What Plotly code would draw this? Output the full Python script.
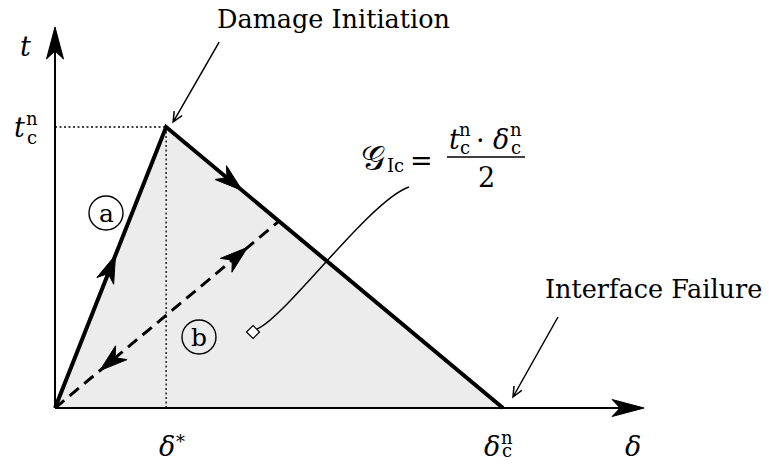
import math
import plotly.graph_objects as go

# ---- bilinear cohesive law (normalised units) ----
t_c = 1.0            # cohesive strength t_c^n
delta_star = 0.248   # separation at damage initiation
delta_c = 1.0        # critical separation delta_c^n
delta_unload = 0.50  # separation at which path (b) unloads

law_delta = [0.0, delta_star, delta_c]
law_t = [0.0, t_c, 0.0]

# traction on the softening branch where unloading starts
t_unload = t_c * (delta_c - delta_unload) / (delta_c - delta_star)
unload_delta = [0.0, delta_unload]
unload_t = [0.0, t_unload]

# axis arrow tips
AXIS_X_END = 1.315
AXIS_Y_END = 1.356

W, H = 769, 469
X_RANGE = [-0.1228, 1.5938]
Y_RANGE = [-0.2171, 1.452]
FONT = "DejaVu Serif"
WORD, BIG, SMALL = 25.5, 27, 18


def to_px(x, y):
    px = (x - X_RANGE[0]) / (X_RANGE[1] - X_RANGE[0]) * W
    py = H - (y - Y_RANGE[0]) / (Y_RANGE[1] - Y_RANGE[0]) * H
    return px, py


def to_data(px, py):
    x = X_RANGE[0] + px / W * (X_RANGE[1] - X_RANGE[0])
    y = Y_RANGE[0] + (H - py) / H * (Y_RANGE[1] - Y_RANGE[0])
    return x, y


def along(p, q, f):
    return (p[0] + f * (q[0] - p[0]), p[1] + f * (q[1] - p[1]))


def path_str(points_px, close=False):
    pts = [to_data(*p) for p in points_px]
    s = "M " + " L ".join(f"{x:.5f},{y:.5f}" for x, y in pts)
    return s + (" Z" if close else "")


def stealth(tip, origin, length=28, half=9, inset=8):
    """Filled stealth arrowhead at data point `tip`, pointing away from `origin`."""
    tx, ty = to_px(*tip)
    fx, fy = to_px(*origin)
    dx, dy = tx - fx, ty - fy
    n = (dx * dx + dy * dy) ** 0.5
    ux, uy = dx / n, dy / n
    nx, ny = -uy, ux
    bx, by = tx - length * ux, ty - length * uy
    pts = [(tx, ty),
           (bx + half * nx, by + half * ny),
           (tx - (length - inset) * ux, ty - (length - inset) * uy),
           (bx - half * nx, by - half * ny)]
    return dict(type="path", path=path_str(pts, close=True), xref="x", yref="y",
                fillcolor="black", line=dict(color="black", width=1), layer="above")


def pointer(tip_px, tail_px, head=11, spread=0.42):
    """Thin leader line with an open arrowhead."""
    tx, ty = tip_px
    ang = math.atan2(tail_px[1] - ty, tail_px[0] - tx)
    h1 = (tx + head * math.cos(ang + spread), ty + head * math.sin(ang + spread))
    h2 = (tx + head * math.cos(ang - spread), ty + head * math.sin(ang - spread))
    p = path_str([tail_px, tip_px]) + " " + path_str([h1, tip_px, h2])
    return dict(type="path", path=p, xref="x", yref="y", fillcolor="rgba(0,0,0,0)",
                line=dict(color="black", width=1.5), layer="above")


fig = go.Figure()

# shaded area under the law (fracture energy)
fig.add_trace(go.Scatter(x=law_delta, y=law_t, mode="lines", fill="toself",
                         fillcolor="#ececec", line=dict(color="rgba(0,0,0,0)", width=0),
                         hoverinfo="skip", showlegend=False))

# dotted guides at damage initiation
fig.add_trace(go.Scatter(x=[delta_star, delta_star], y=[0, t_c], mode="lines",
                         line=dict(color="black", width=1.3, dash="2px,2.5px"),
                         showlegend=False))
fig.add_trace(go.Scatter(x=[0, delta_star], y=[t_c, t_c], mode="lines",
                         line=dict(color="black", width=1.3, dash="2px,2.5px"),
                         showlegend=False))

# unloading / reloading path (b)
fig.add_trace(go.Scatter(x=unload_delta, y=unload_t, mode="lines",
                         line=dict(color="black", width=3, dash="12px,7px"),
                         showlegend=False))

# loading path (a) and softening
fig.add_trace(go.Scatter(x=law_delta, y=law_t, mode="lines",
                         line=dict(color="black", width=4), showlegend=False))

shapes = []
# axes
ax_x_tip = (AXIS_X_END, 0.0)
ax_y_tip = (0.0, AXIS_Y_END)
shapes.append(dict(type="line", xref="x", yref="y", x0=0, y0=0,
                   x1=to_data(to_px(*ax_x_tip)[0] - 20, 0)[0], y1=0,
                   line=dict(color="black", width=2), layer="above"))
shapes.append(dict(type="line", xref="x", yref="y", x0=0, y0=0, x1=0,
                   y1=to_data(0, to_px(*ax_y_tip)[1] + 20)[1],
                   line=dict(color="black", width=2), layer="above"))
shapes.append(stealth(ax_x_tip, (0, 0), length=32, half=8.5, inset=8))
shapes.append(stealth(ax_y_tip, (0, 0), length=32, half=8.5, inset=8))

# direction arrows on the paths
origin = (0.0, 0.0)
peak = (delta_star, t_c)
fail = (delta_c, 0.0)
unload_pt = (delta_unload, t_unload)
shapes.append(stealth(along(origin, peak, 0.545), origin))
shapes.append(stealth(along(peak, fail, 0.226), peak))
shapes.append(stealth(along(origin, unload_pt, 0.86), origin))
shapes.append(stealth(along(origin, unload_pt, 0.20), unload_pt))

# leaders to damage initiation and interface failure
pk = to_px(*peak)
dmg_tip = (pk[0] + 7, pk[1] - 5)
dmg_tail = (dmg_tip[0] + 46, dmg_tip[1] - 80)
shapes.append(pointer(dmg_tip, dmg_tail))
fl = to_px(*fail)
fail_tip = (fl[0] + 10, fl[1] - 11)
fail_tail = (fail_tip[0] + 45, fail_tip[1] - 80)
shapes.append(pointer(fail_tip, fail_tail))

# circled path labels
A_LABEL = to_data(106, 213)
B_LABEL = to_data(199, 337)
for cx, cy in (A_LABEL, B_LABEL):
    shapes.append(dict(type="circle", xref="x", yref="y", xsizemode="pixel",
                       ysizemode="pixel", xanchor=cx, yanchor=cy,
                       x0=-17, x1=17, y0=-17, y1=17,
                       line=dict(color="black", width=1.4), layer="above"))

# callout from the shaded area to the energy formula
G_MARK = to_data(253, 332)
FORMULA_BAR = (447, 157)   # left end of the fraction bar, px
gx, gy = to_px(*G_MARK)
p0 = (gx + 4, gy - 3)
p3 = (FORMULA_BAR[0] - 38, FORMULA_BAR[1] + 30)
p1 = (p0[0] + 28, p0[1] - 11)
p2 = (p3[0] - 39, p3[1] + 13)
cs = [to_data(*p) for p in (p0, p1, p2, p3)]
shapes.append(dict(type="path", xref="x", yref="y",
                   path=(f"M {cs[0][0]:.5f},{cs[0][1]:.5f} C {cs[1][0]:.5f},{cs[1][1]:.5f} "
                         f"{cs[2][0]:.5f},{cs[2][1]:.5f} {cs[3][0]:.5f},{cs[3][1]:.5f}"),
                   line=dict(color="black", width=1.5), fillcolor="rgba(0,0,0,0)",
                   layer="above"))
# fraction bar
bl = FORMULA_BAR
shapes.append(dict(type="path", xref="x", yref="y",
                   path=path_str([bl, (bl[0] + 78, bl[1])]),
                   line=dict(color="black", width=1.4), layer="above"))

fig.add_trace(go.Scatter(x=[G_MARK[0]], y=[G_MARK[1]], mode="markers",
                         marker=dict(symbol="diamond", size=10, color="white",
                                     line=dict(color="black", width=1.2)),
                         showlegend=False))

annotations = []


def txt(s, px, py, size=BIG, xanchor="center"):
    x, y = to_data(px, py)
    annotations.append(dict(x=x, y=y, xref="x", yref="y", text=s, showarrow=False,
                            xanchor=xanchor, yanchor="middle", borderpad=0,
                            font=dict(family=FONT, size=size, color="black")))


def txt_at(s, anchor, dx, dy, size=BIG, xanchor="center"):
    px, py = to_px(*anchor)
    txt(s, px + dx, py + dy, size, xanchor)


# axis titles
txt_at("<i>t</i>", ax_y_tip, -30, 20)
txt_at("<i>δ</i>", ax_x_tip, -11, 38)
# t_c^n on the vertical axis
txt_at("<i>t</i>", (0, t_c), -36, 0)
txt_at("n", (0, t_c), -23, -9, SMALL)
txt_at("c", (0, t_c), -23, 10, SMALL)
# delta* and delta_c^n below the horizontal axis
txt_at("<i>δ</i>", (delta_star, 0), 1, 38)
txt_at("*", (delta_star, 0), 14, 33, SMALL)
txt_at("<i>δ</i>", (delta_c, 0), -11, 38)
txt_at("n", (delta_c, 0), 4, 29, SMALL)
txt_at("c", (delta_c, 0), 4, 42, SMALL)

# event labels
txt("Damage Initiation", dmg_tail[0] - 3, dmg_tail[1] - 23, WORD, xanchor="left")
txt("Interface Failure", fail_tail[0] - 14, fail_tail[1] - 28, WORD, xanchor="left")

# circled letters
txt("a", *to_px(*A_LABEL), size=25)
txt("b", *to_px(*B_LABEL), size=25)

# G_Ic = t_c^n . delta_c^n / 2
fx0, fy0 = FORMULA_BAR
txt("𝒢", fx0 - 74, fy0 + 1, size=34)
txt("Ic", fx0 - 52, fy0 + 8, SMALL)
txt("=", fx0 - 26, fy0 + 3)
txt("<i>t</i>", fx0 + 7, fy0 - 18)
txt("n", fx0 + 18, fy0 - 28, SMALL)
txt("c", fx0 + 18, fy0 - 10, SMALL)
txt("·", fx0 + 33, fy0 - 17)
txt("<i>δ</i>", fx0 + 54, fy0 - 18)
txt("n", fx0 + 69, fy0 - 28, SMALL)
txt("c", fx0 + 69, fy0 - 10, SMALL)
txt("2", fx0 + 39, fy0 + 20)

fig.update_layout(
    width=W, height=H,
    margin=dict(l=0, r=0, t=0, b=0),
    paper_bgcolor="white", plot_bgcolor="white",
    xaxis=dict(range=X_RANGE, visible=False, fixedrange=True),
    yaxis=dict(range=Y_RANGE, visible=False, fixedrange=True),
    shapes=shapes, annotations=annotations, showlegend=False,
)

fig.write_html("out.html")
